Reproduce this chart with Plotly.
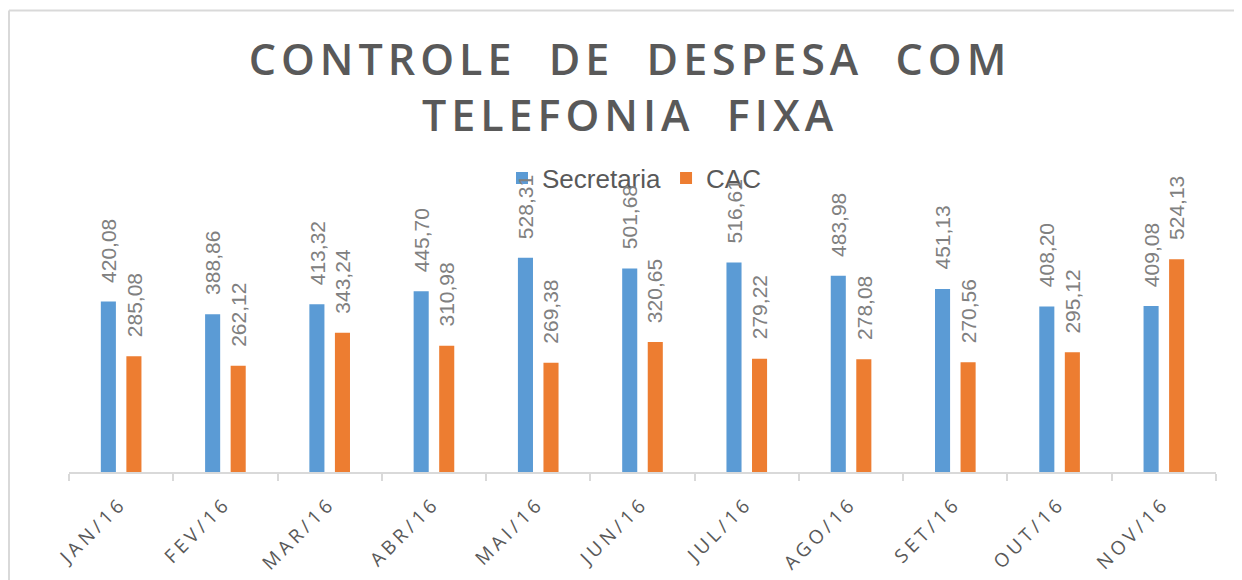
import plotly.graph_objects as go

months = ["JAN/16", "FEV/16", "MAR/16", "ABR/16", "MAI/16", "JUN/16",
          "JUL/16", "AGO/16", "SET/16", "OUT/16", "NOV/16"]
secretaria = [420.08, 388.86, 413.32, 445.70, 528.31, 501.68,
              516.61, 483.98, 451.13, 408.20, 409.08]
cac = [285.08, 262.12, 343.24, 310.98, 269.38, 320.65,
       279.22, 278.08, 270.56, 295.12, 524.13]

BLUE = "#5B9BD5"
ORANGE = "#ED7D31"
GRAY = "#595959"
LABEL = "#808080"
LINE = "#D9D9D9"

# page body has an 8px margin; figure sized to fill the rest of the window
W, H = 1234, 572
OFF = 8
L, R, T, B = 69 - OFF, 26, 188 - OFF, 108
PW = W - L - R
PH = H - T - B


def fmt(v):
    return f"{v:.2f}".replace(".", ",")


def spaced(s, px):
    return f"<span style='letter-spacing:{px}px'>{s}</span>"


def px_x(x):  # screen px -> paper
    return (x - OFF - L) / PW


def px_y(y):
    return (H - B - (y - OFF)) / PH


fig = go.Figure()
fig.add_trace(go.Bar(x=months, y=secretaria, name="Secretaria",
                     marker=dict(color=BLUE, line=dict(width=0))))
fig.add_trace(go.Bar(x=months, y=cac, name="CAC",
                     marker=dict(color=ORANGE, line=dict(width=0))))

annotations = []
for vals, shift in ((secretaria, -12.75), (cac, 12.75)):
    for m, v in zip(months, vals):
        annotations.append(dict(
            x=m, y=v, xref="x", yref="y", text=fmt(v), showarrow=False,
            textangle=-90, xanchor="center", yanchor="bottom",
            xshift=shift, yshift=17,
            font=dict(family="Liberation Sans", size=21, color=LABEL)))

fig.update_layout(
    width=W, height=H,
    margin=dict(l=L, r=R, t=T, b=B, autoexpand=False),
    paper_bgcolor="white", plot_bgcolor="white",
    barmode="group", bargap=0.51, bargroupgap=0.41,
    title=dict(
        text=spaced("CONTROLE  DE  DESPESA  COM", 5) + "<br>" + spaced("TELEFONIA  FIXA", 5),
        x=(630 - OFF) / W, xanchor="center", xref="container",
        y=1 - 66.7 / H, yanchor="top", yref="container",
        font=dict(family="Open Sans", size=43, color=GRAY, weight=600)),
    legend=dict(orientation="h", x=px_x(634), xanchor="center", y=px_y(178), yanchor="middle",
                font=dict(family="Liberation Sans", size=26, color=GRAY),
                bgcolor="rgba(0,0,0,0)", itemwidth=30),
    showlegend=True,
    xaxis=dict(
        type="category", tickmode="array", tickvals=months,
        ticktext=[spaced(m, 4) for m in months],
        tickangle=-45, tickson="boundaries", ticks="outside", ticklen=7,
        tickcolor=LINE, tickwidth=1.5, automargin=False, ticklabelstandoff=11,
        showline=True, linecolor=LINE, linewidth=1.5,
        showgrid=False, zeroline=False,
        tickfont=dict(family="Open Sans", size=19, color=GRAY)),
    yaxis=dict(range=[0, 700], visible=False, showgrid=False, zeroline=False,
               automargin=False),
    annotations=annotations,
    shapes=[
        dict(type="line", xref="paper", yref="paper",
             x0=px_x(9), x1=px_x(1250), y0=px_y(10.5), y1=px_y(10.5),
             line=dict(color=LINE, width=2)),
        dict(type="line", xref="paper", yref="paper",
             x0=px_x(9), x1=px_x(9), y0=px_y(10.5), y1=px_y(590),
             line=dict(color=LINE, width=2)),
    ],
)

fig.write_html("out.html")
